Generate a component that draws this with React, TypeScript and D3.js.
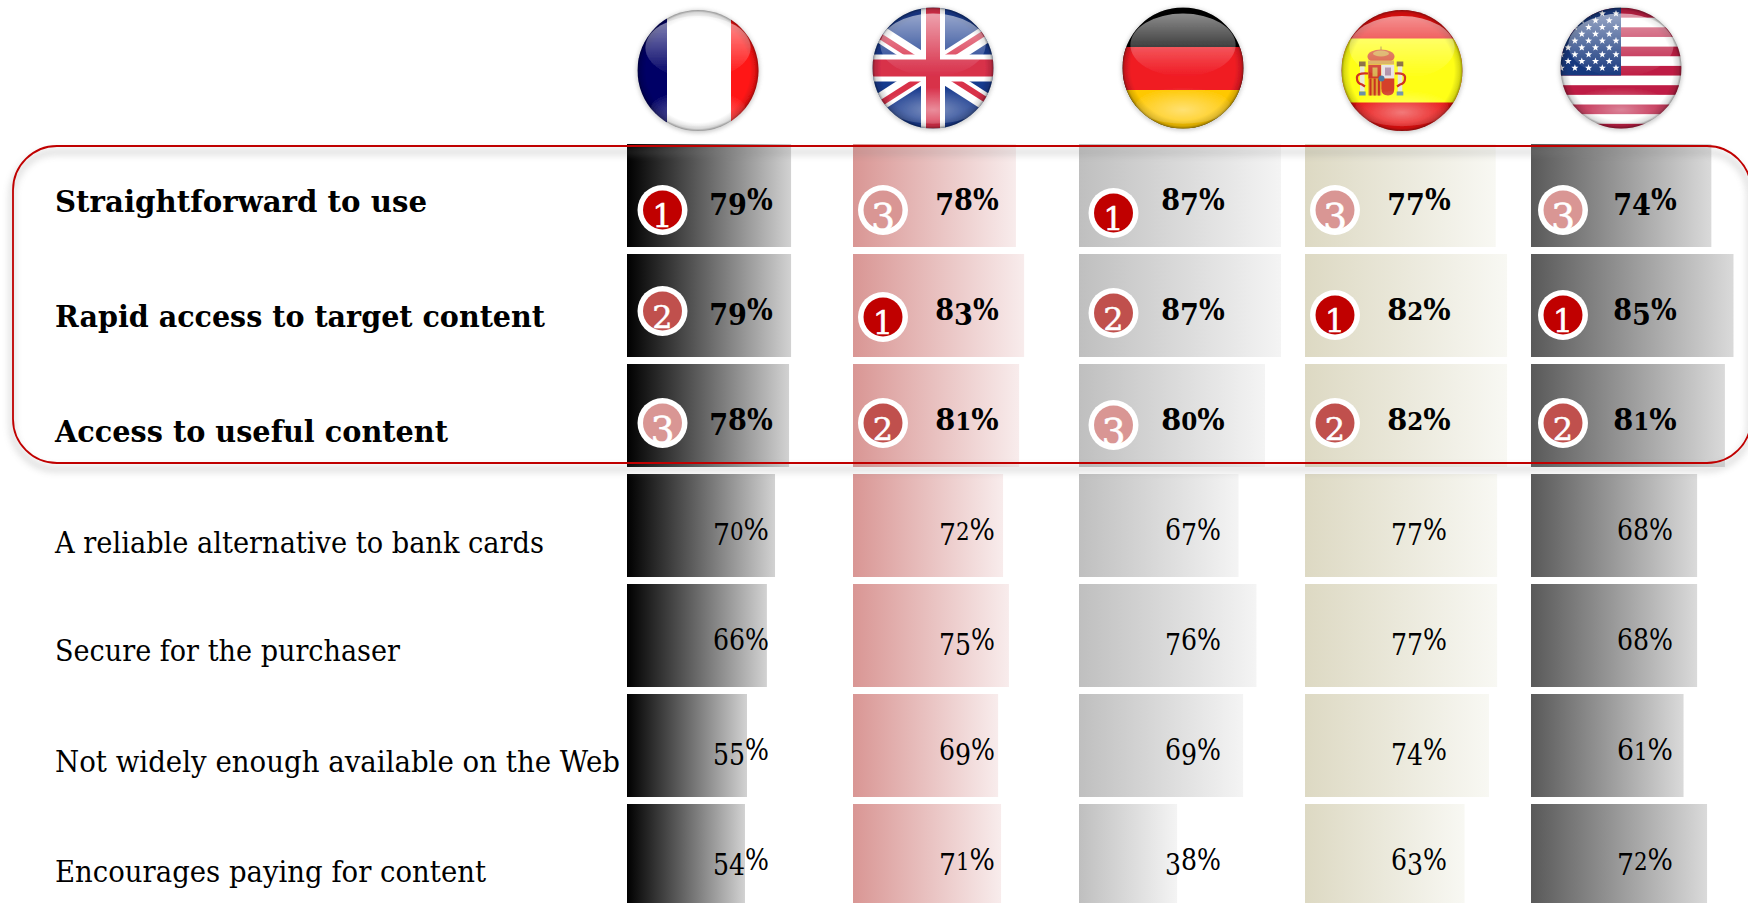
import React from "react";
import * as d3 from "d3";

const attributes = [
  "Straightforward to use",
  "Rapid access to target content",
  "Access to useful content",
  "A reliable alternative to bank cards",
  "Secure for the purchaser",
  "Not widely enough available on the Web",
  "Encourages paying for content",
];
const countries = ["France", "United Kingdom", "Germany", "Spain", "United States"];

const franceLabels = [79, 79, 78, 70, 66, 55, 54];
const ukLabels = [78, 83, 81, 72, 75, 69, 71];
const germanyLabels = [87, 87, 80, 67, 76, 69, 38];
const spainLabels = [77, 82, 82, 77, 77, 74, 63];
const usLabels = [74, 85, 81, 68, 68, 61, 72];
const labels = [franceLabels, ukLabels, germanyLabels, spainLabels, usLabels];

// Drawn bar lengths (they do not follow the printed labels)
const franceBars = [72.6, 72.6, 71.7, 65.5, 61.9, 53.1, 52.2];
const ukBars = [72.1, 75.7, 73.5, 66.4, 69, 64.2, 65.5];
const germanyBars = [89.4, 89.4, 82.3, 70.6, 78.5, 72.6, 43.4];
const spainBars = [84.4, 89.4, 89.4, 85, 85, 81.4, 70.6];
const usBars = [79.8, 89.6, 85.8, 73.5, 73.5, 67.5, 77.9];
const bars = [franceBars, ukBars, germanyBars, spainBars, usBars];

const franceRanks = [1, 2, 3];
const ukRanks = [3, 1, 2];
const germanyRanks = [1, 2, 3];
const spainRanks = [3, 1, 2];
const usRanks = [3, 1, 2];
const ranks = [franceRanks, ukRanks, germanyRanks, spainRanks, usRanks];

const barStart = ["#000000", "#D99694", "#BFBFBF", "#DDD9C3", "#595959"];
const barEnd = ["#D2D2D2", "#F8ECEC", "#F4F4F4", "#F8F8F3", "#DADADA"];
const rankFill: Record<number, string> = { 1: "#C00000", 2: "#C0504D", 3: "#D99694" };

const W = 1748;
const H = 903;
const FONT = "'DejaVu Serif', serif";

const labelWidths = [372, 490, 393, 489, 345, 565, 431];
const labelBaselines = [212, 327, 442, 553, 661, 772, 882];
const pctBaselines = [210, 320, 430, 540, 650, 760, 870];
const badgeColX = [35.5, 30, 34.5, 30, 32];
const badgeRowY = [[210, 210, 213, 210, 210], [311, 317, 313, 315, 315], [423, 423, 425, 423, 423]];
const flagCenters = [[698, 70.5], [933, 68], [1183, 68], [1402, 70.5], [1621, 68]];

const rowScale = d3.scaleBand<string>().domain(attributes).range([144, 144 + 110 * 7 - 7]).paddingInner(7 / 110).paddingOuter(0);
const colScale = d3.scaleBand<string>().domain(countries).range([627, 627 + 226 * 5]);
const lenScale = d3.scaleLinear().domain([0, 100]).range([0, 226]);

function OldStyle({ text, fs }: { text: string; fs: number }) {
  // Emulates old-style figures: 0 1 2 are x-height, 3 4 5 7 9 drop below the baseline.
  let cur = 0;
  return (
    <>
      {text.split("").map((c, i) => {
        const small = "012".includes(c);
        const drop = "34579".includes(c);
        const target = drop ? fs * 0.16 : 0;
        const dy = target - cur;
        cur = target;
        return (
          <tspan key={i} dy={dy} fontSize={small ? fs * 0.8 : fs}>
            {c}
          </tspan>
        );
      })}
    </>
  );
}

function Gloss({ r }: { r: number }) {
  return (
    <g>
      <circle r={r} fill="url(#rim)" />
      <ellipse cx={0} cy={-r + 6 + r * 0.52} rx={r * 0.87} ry={r * 0.52} fill="url(#glossTop)" />
      <ellipse cx={0} cy={r * 0.62} rx={r * 0.78} ry={r * 0.3} fill="url(#glossBottom)" />
    </g>
  );
}

function star(cx: number, cy: number, r: number) {
  const pts: string[] = [];
  for (let i = 0; i < 10; i++) {
    const a = -Math.PI / 2 + (i * Math.PI) / 5;
    const rr = i % 2 ? r * 0.42 : r;
    pts.push(`${cx + rr * Math.cos(a)},${cy + rr * Math.sin(a)}`);
  }
  return pts.join(" ");
}

function Flag({ i }: { i: number }) {
  const [cx, cy] = flagCenters[i];
  const r = 60.5;
  const id = `flagClip${i}`;
  let body: React.ReactNode = null;
  if (i === 0) {
    body = (
      <>
        <rect x={-r} y={-r} width={r * 2} height={r * 2} fill="#FFFFFF" />
        <rect x={-r} y={-r} width={r - 31} height={r * 2} fill="#000066" />
        <rect x={33} y={-r} width={r} height={r * 2} fill="#FF1414" />
      </>
    );
  } else if (i === 1) {
    const diag = [[-75, -48], [75, 48], [-75, 48], [75, -48]];
    body = (
      <>
        <rect x={-r} y={-r} width={r * 2} height={r * 2} fill="#183A8E" />
        <g stroke="#FFFFFF" strokeWidth={17}>
          <line x1={diag[0][0]} y1={diag[0][1]} x2={diag[1][0]} y2={diag[1][1]} />
          <line x1={diag[2][0]} y1={diag[2][1]} x2={diag[3][0]} y2={diag[3][1]} />
        </g>
        <g stroke="#D8304A" strokeWidth={6}>
          <line x1={-75} y1={-46} x2={0} y2={2} />
          <line x1={0} y1={-2} x2={75} y2={-50} />
          <line x1={-75} y1={50} x2={0} y2={2} />
          <line x1={0} y1={-2} x2={75} y2={46} />
        </g>
        <rect x={-r} y={-13.5} width={r * 2} height={27} fill="#FFFFFF" />
        <rect x={-12} y={-r} width={24} height={r * 2} fill="#FFFFFF" />
        <rect x={-r} y={-8.5} width={r * 2} height={17} fill="#D8304A" />
        <rect x={-7} y={-r} width={14} height={r * 2} fill="#D8304A" />
      </>
    );
  } else if (i === 2) {
    body = (
      <>
        <rect x={-r} y={-r} width={r * 2} height={r * 2} fill="#000000" />
        <rect x={-r} y={-21} width={r * 2} height={43} fill="#F01C24" />
        <rect x={-r} y={22} width={r * 2} height={r} fill="#FFC800" />
      </>
    );
  } else if (i === 3) {
    body = (
      <>
        <rect x={-r} y={-r} width={r * 2} height={r * 2} fill="#E80C0C" />
        <rect x={-r} y={-32} width={r * 2} height={64} fill="#FFFF14" />
        {/* coat of arms */}
        <g>
          <rect x={-21.5} y={-24} width={1} height={6} fill="#A08030" />
          <ellipse cx={-21} cy={-14} rx={13.5} ry={7} fill="#D8583A" />
          <ellipse cx={-21} cy={-17} rx={8} ry={3} fill="#D8A850" />
          <rect x={-34} y={-10} width={26} height={4} fill="#D8A850" />
          <rect x={-33.7} y={-5.7} width={13} height={14} fill="#D03A2A" />
          <rect x={-29.5} y={-3} width={5} height={9} fill="#D8B050" />
          <rect x={-33.7} y={8} width={13} height={17} fill="#E0A030" />
          {[0, 1, 2].map((k) => (
            <rect key={k} x={-32.5 + k * 4.2} y={8} width={2} height={17} fill="#C83020" />
          ))}
          <rect x={-20.7} y={-5.7} width={13} height={14} fill="#E8E2E4" />
          <rect x={-17} y={-3} width={6} height={8} fill="#B090A8" />
          <path d="M-20.7,8H-7.7V18Q-7.7,25,-14,25Q-20.7,25,-20.7,18Z" fill="#D4402C" />
          <circle cx={-20.5} cy={8} r={3} fill="#5078A0" />
          <rect x={-43} y={-9} width={6.6} height={5} fill="#806030" />
          <rect x={-5.3} y={-9} width={6.6} height={5} fill="#806030" />
          <rect x={-42} y={-4} width={4.6} height={25} fill="#E8E8D8" />
          <rect x={-4.3} y={-4} width={4.6} height={25} fill="#E8E8D8" />
          <rect x={-43} y={21} width={6.6} height={4} fill="#6A90A8" />
          <rect x={-5.3} y={21} width={6.6} height={4} fill="#6A90A8" />
          <path d="M-34,3 Q-46,2 -45,8 Q-45,13 -40,14 L-37,16" fill="none" stroke="#D03020" strokeWidth={2.2} />
          <path d="M-7,3 Q4,2 3,8 Q3,13 -2,14 L-5,16" fill="none" stroke="#D03020" strokeWidth={2.2} />
        </g>
      </>
    );
  } else {
    const stripe = 9.65;
    const top = -60;
    const cantonH = stripe * 7;
    body = (
      <>
        <rect x={-r} y={-r} width={r * 2} height={r * 2} fill="#FFFFFF" />
        {d3.range(0, 13, 2).map((k) => (
          <rect key={k} x={-r} y={top + k * stripe} width={r * 2} height={stripe} fill="#BE1E44" />
        ))}
        <rect x={-r} y={-r} width={r} height={r + top + cantonH} fill="#18397E" />
        {d3.range(0, 9).flatMap((row) =>
          d3.range(0, 5).map((col) => (
            <polygon
              key={`${row}-${col}`}
              points={star(-5 - col * 13.7 - (row % 2) * 6.8, 0 - row * 6.8, 3.7)}
              fill="#FFFFFF"
            />
          ))
        )}
      </>
    );
  }
  return (
    <g transform={`translate(${cx},${cy})`}>
      <clipPath id={id}>
        <circle r={r} />
      </clipPath>
      <circle r={r + 1} fill="#808080" opacity={0.4} filter="url(#softBlur)" cy={1} />
      <g filter="url(#flagBlur)">
        <g clipPath={`url(#${id})`}>{body}</g>
        <Gloss r={r} />
      </g>
    </g>
  );
}

export default function App() {
  return (
    <svg
      width={W}
      height={H}
      viewBox={`0 0 ${W} ${H}`}
      style={{ position: "absolute", left: 0, top: 0, display: "block", background: "#fff", fontFamily: FONT }}
    >
      <defs>
        {barStart.map((c, i) => (
          <linearGradient key={i} id={`bar${i}`} x1="0" x2="1" y1="0" y2="0">
            <stop offset="0" stopColor={c} />
            <stop offset="1" stopColor={barEnd[i]} />
          </linearGradient>
        ))}
        <radialGradient id="rim">
          <stop offset="0.86" stopColor="#000" stopOpacity="0" />
          <stop offset="0.96" stopColor="#000" stopOpacity="0.16" />
          <stop offset="1" stopColor="#000" stopOpacity="0.42" />
        </radialGradient>
        <linearGradient id="glossTop" x1="0" x2="0" y1="0" y2="1">
          <stop offset="0" stopColor="#fff" stopOpacity="0.55" />
          <stop offset="0.8" stopColor="#fff" stopOpacity="0.1" />
          <stop offset="1" stopColor="#fff" stopOpacity="0" />
        </linearGradient>
        <radialGradient id="glossBottom" cy="0.62" r="0.62">
          <stop offset="0" stopColor="#fff" stopOpacity="0.45" />
          <stop offset="1" stopColor="#fff" stopOpacity="0" />
        </radialGradient>
        <filter id="softBlur" x="-20%" y="-20%" width="140%" height="140%">
          <feGaussianBlur stdDeviation="2" />
        </filter>
        <filter id="flagBlur" x="-5%" y="-5%" width="110%" height="110%">
          <feGaussianBlur stdDeviation="0.7" />
        </filter>
        <filter id="shadowBlur" x="-5%" y="-10%" width="110%" height="120%">
          <feGaussianBlur stdDeviation="3.5" />
        </filter>
      </defs>

      {countries.map((_, i) => (
        <Flag key={i} i={i} />
      ))}

      {attributes.map((a, r) => (
        <text
          key={a}
          x={55}
          y={labelBaselines[r]}
          fontSize={30}
          fontWeight={r < 3 ? 700 : 400}
          fill="#000"
          textLength={labelWidths[r]}
          lengthAdjust="spacingAndGlyphs"
        >
          {a}
        </text>
      ))}

      {countries.map((c, ci) =>
        attributes.map((a, r) => (
          <rect
            key={`${c}-${a}`}
            x={colScale(c)}
            y={rowScale(a)}
            width={lenScale(bars[ci][r])}
            height={rowScale.bandwidth()}
            fill={`url(#bar${ci})`}
          />
        ))
      )}

      {countries.map((c, ci) =>
        attributes.map((a, r) => (
          <text
            key={`${c}-${a}`}
            x={(colScale(c) as number) + 114}
            y={pctBaselines[r]}
            textAnchor="middle"
            fontWeight={r < 3 ? 700 : 400}
            fontSize={30}
            fill="#000"
            textLength={r < 3 ? 63.5 : 56}
            lengthAdjust="spacingAndGlyphs"
          >
            <OldStyle text={`${labels[ci][r]}%`} fs={30} />
          </text>
        ))
      )}

      {countries.map((c, ci) =>
        ranks[ci].map((rank, r) => {
          const cx = (colScale(c) as number) + badgeColX[ci];
          const cy = badgeRowY[r][ci];
          const id = `badge${ci}-${r}`;
          return (
            <g key={id} transform={`translate(${cx},${cy})`}>
              <clipPath id={id}>
                <circle r={24.5} />
              </clipPath>
              <circle r={25} fill="#fff" />
              <circle r={19.5} fill={rankFill[rank]} />
              <text
                clipPath={`url(#${id})`}
                textAnchor="middle"
                y={rank === 3 ? 20 : 16.5}
                fontSize={rank === 3 ? 38 : 32}
                fill="#fff"
                stroke="#fff"
                strokeWidth={0.5}
              >
                {rank}
              </text>
            </g>
          );
        })
      )}

      <rect
        x={13}
        y={146}
        width={1738}
        height={317}
        rx={44}
        ry={44}
        fill="none"
        stroke="#808080"
        strokeWidth={5}
        opacity={0.3}
        transform="translate(-1,6)"
        filter="url(#shadowBlur)"
      />
      <rect x={13} y={146} width={1738} height={317} rx={44} ry={44} fill="none" stroke="#C00000" strokeWidth={1.8} />
    </svg>
  );
}
